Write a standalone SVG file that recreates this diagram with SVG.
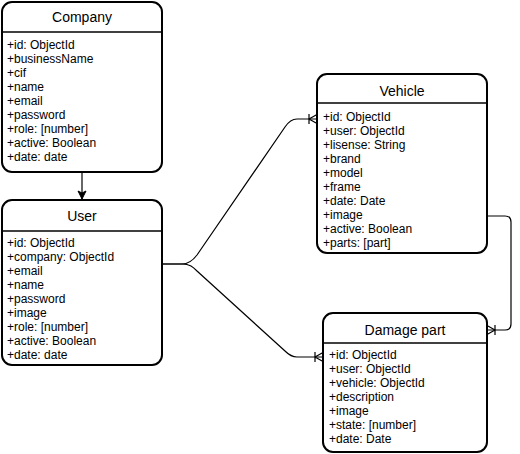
<svg xmlns="http://www.w3.org/2000/svg" width="520" height="454" viewBox="0 0 520 454">
<style>
.box{fill:#fff;stroke:#000;stroke-width:2}
.sep{stroke:#000;stroke-width:1.5}
.title{font-family:"Liberation Sans",Arial,sans-serif;font-size:14px;font-weight:normal;text-anchor:middle;fill:#000}
.row{font-family:"Liberation Sans",Arial,sans-serif;font-size:12px;fill:#000}
.edge{fill:none;stroke:#000;stroke-width:1.2}
</style>
<defs>
<marker id="crow" markerUnits="userSpaceOnUse" viewBox="-12 -8 14 16" refX="0" refY="0" markerWidth="14" markerHeight="16" orient="auto">
<path d="M0,-4.5 L-8,0 L0,4.5 M-8,-5 L-8,5" fill="none" stroke="#000" stroke-width="1.2"/>
</marker>
<marker id="arrow" markerUnits="userSpaceOnUse" viewBox="-10 -5 11 10" refX="0" refY="0" markerWidth="11" markerHeight="10" orient="auto">
<path d="M0,0 L-8,-4 L-6,0 L-8,4 Z" fill="#000" stroke="#000" stroke-width="1"/>
</marker>
</defs>
<g id="connectors">
<path class="edge" d="M82,172 L82,199" marker-end="url(#arrow)"/>
<path class="edge" d="M162,264 L182,264 C190,264 194,259 197,255 L285,127 C289,121 292,119 297,119 L317,119" marker-end="url(#crow)"/>
<path class="edge" d="M162,264 L182,264 C190,264 193,267 197,271 L285,351 C290,356 293,357 297,357 L323,357" marker-end="url(#crow)"/>
<path class="edge" d="M487,216 L505,216 Q511,216 511,222 L511,324 Q511,330 505,330 L487,330" marker-end="url(#crow)"/>
</g>
<g id="company">
<rect class="box" x="2" y="2" width="160" height="170" rx="10"/>
<line class="sep" x1="2" y1="32" x2="162" y2="32"/>
<text class="title" x="82" y="22">Company</text>
<text class="row" x="7" y="49">+id: ObjectId</text>
<text class="row" x="7" y="63">+businessName</text>
<text class="row" x="7" y="77">+cif</text>
<text class="row" x="7" y="91">+name</text>
<text class="row" x="7" y="105">+email</text>
<text class="row" x="7" y="119">+password</text>
<text class="row" x="7" y="133">+role: [number]</text>
<text class="row" x="7" y="147">+active: Boolean</text>
<text class="row" x="7" y="161">+date: date</text>
</g>
<g id="user">
<rect class="box" x="2" y="200" width="160" height="165" rx="10"/>
<line class="sep" x1="2" y1="231" x2="162" y2="231"/>
<text class="title" x="82" y="221">User</text>
<text class="row" x="7" y="247">+id: ObjectId</text>
<text class="row" x="7" y="261">+company: ObjectId</text>
<text class="row" x="7" y="275">+email</text>
<text class="row" x="7" y="289">+name</text>
<text class="row" x="7" y="303">+password</text>
<text class="row" x="7" y="317">+image</text>
<text class="row" x="7" y="331">+role: [number]</text>
<text class="row" x="7" y="345">+active: Boolean</text>
<text class="row" x="7" y="359">+date: date</text>
</g>
<g id="vehicle">
<rect class="box" x="317" y="74" width="170" height="179" rx="10"/>
<line class="sep" x1="317" y1="103" x2="487" y2="103"/>
<text class="title" x="402" y="96">Vehicle</text>
<text class="row" x="323" y="121">+id: ObjectId</text>
<text class="row" x="323" y="135">+user: ObjectId</text>
<text class="row" x="323" y="149">+lisense: String</text>
<text class="row" x="323" y="163">+brand</text>
<text class="row" x="323" y="177">+model</text>
<text class="row" x="323" y="191">+frame</text>
<text class="row" x="323" y="205">+date: Date</text>
<text class="row" x="323" y="219">+image</text>
<text class="row" x="323" y="233">+active: Boolean</text>
<text class="row" x="323" y="247">+parts: [part]</text>
</g>
<g id="damage-part">
<rect class="box" x="323" y="313" width="164" height="139" rx="10"/>
<line class="sep" x1="323" y1="343" x2="487" y2="343"/>
<text class="title" x="405" y="335">Damage part</text>
<text class="row" x="329" y="359">+id: ObjectId</text>
<text class="row" x="329" y="373">+user: ObjectId</text>
<text class="row" x="329" y="387">+vehicle: ObjectId</text>
<text class="row" x="329" y="401">+description</text>
<text class="row" x="329" y="415">+image</text>
<text class="row" x="329" y="429">+state: [number]</text>
<text class="row" x="329" y="443">+date: Date</text>
</g>
</svg>
